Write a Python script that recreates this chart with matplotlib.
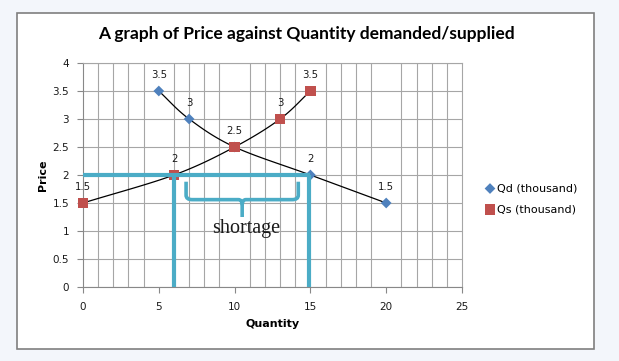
import numpy as np
import matplotlib
matplotlib.use("Agg")
import matplotlib.pyplot as plt
from matplotlib.patches import Rectangle
from matplotlib.path import Path
from matplotlib.patches import PathPatch

# Data
qd_quantity = [5, 7, 10, 15, 20]
qd_price = [3.5, 3, 2.5, 2, 1.5]
qd_labels = ["3.5", "3", "", "2", "1.5"]
qs_quantity = [0, 6, 10, 13, 15]
qs_price = [1.5, 2, 2.5, 3, 3.5]
qs_labels = ["1.5", "2", "2.5", "3", "3.5"]
x_ticks = [0, 5, 10, 15, 20, 25]
y_ticks = [0, 0.5, 1, 1.5, 2, 2.5, 3, 3.5, 4]
title = "A graph of Price against Quantity demanded/supplied"
annot_price = 2
annot_q_supplied = 6
annot_q_demanded = 15

W, H = 619, 361
fig = plt.figure(figsize=(W / 100, H / 100), dpi=100)
fig.patch.set_facecolor("#f3f6fb")

# chart frame
fig.patches.append(Rectangle((17 / W, 1 - 349 / H), (594 - 17) / W, (349 - 13) / H,
                             transform=fig.transFigure, facecolor="white",
                             edgecolor="#7f7f7f", linewidth=1.2, zorder=-5))

ax = fig.add_axes([83 / W, 1 - 287 / H, (462 - 83) / W, (287 - 63) / H])
ax.set_zorder(2)
ax.set_facecolor("white")
ax.set_xlim(0, 25)
ax.set_ylim(0, 4)
ax.set_xticks(x_ticks)
ax.set_yticks(y_ticks)
ax.set_yticklabels([("%g" % v) for v in y_ticks])
ax.set_xticks(np.arange(0, 26, 1), minor=True)
ax.tick_params(axis="both", which="major", labelsize=7.5, labelcolor="#1a1a1a",
               length=4, width=0.8, direction="out", color="#888888")
ax.tick_params(axis="y", which="major", pad=6)
ax.tick_params(axis="x", which="major", pad=7)
ax.tick_params(axis="x", which="minor", length=0)
ax.grid(True, which="major", axis="y", color="#a6a6a6", linewidth=0.8)
ax.grid(True, which="minor", axis="x", color="#a6a6a6", linewidth=0.8)
for s in ax.spines.values():
    s.set_color("#a6a6a6")
    s.set_linewidth(0.8)
ax.spines["left"].set_color("#888888")
ax.spines["bottom"].set_color("#888888")
ax.set_axisbelow(True)


def smooth(xs, ys, n=30):
    xs = np.asarray(xs, float)
    ys = np.asarray(ys, float)
    px = np.concatenate([[2 * xs[0] - xs[1]], xs, [2 * xs[-1] - xs[-2]]])
    py = np.concatenate([[2 * ys[0] - ys[1]], ys, [2 * ys[-1] - ys[-2]]])
    ox, oy = [], []
    for i in range(1, len(px) - 2):
        t = np.linspace(0, 1, n)
        for arr, out in ((px, ox), (py, oy)):
            p0, p1, p2, p3 = arr[i - 1], arr[i], arr[i + 1], arr[i + 2]
            out.extend(0.5 * ((2 * p1) + (-p0 + p2) * t + (2 * p0 - 5 * p1 + 4 * p2 - p3) * t ** 2
                              + (-p0 + 3 * p1 - 3 * p2 + p3) * t ** 3))
    return ox, oy


sx, sy = smooth(qd_quantity, qd_price)
ax.plot(sx, sy, color="black", linewidth=0.9, zorder=3)
sx, sy = smooth(qs_quantity, qs_price)
ax.plot(sx, sy, color="black", linewidth=0.9, zorder=3)

ax.scatter(qd_quantity, qd_price, marker="D", s=30, color="#4f81bd", zorder=4,
           label="Qd (thousand)", edgecolors="none")
ax.scatter(qs_quantity, qs_price, marker="s", s=55, color="#c0504d", zorder=5,
           label="Qs (thousand)", edgecolors="none", clip_on=False)

for x, y, t in zip(qd_quantity, qd_price, qd_labels):
    if t:
        ax.annotate(t, (x, y), xytext=(0, 8), textcoords="offset points",
                    ha="center", va="bottom", fontsize=7.3, color="#1a1a1a", zorder=6)
for x, y, t in zip(qs_quantity, qs_price, qs_labels):
    ax.annotate(t, (x, y), xytext=(0, 8), textcoords="offset points",
                ha="center", va="bottom", fontsize=7.3, color="#1a1a1a", zorder=6)

# teal annotation lines
teal = "#4bacc6"
ax.plot([0, annot_q_demanded], [annot_price, annot_price], color=teal, linewidth=3,
        solid_capstyle="butt", zorder=7, clip_on=False)
ax.plot([annot_q_supplied, annot_q_supplied], [0, annot_price], color=teal, linewidth=3,
        solid_capstyle="butt", zorder=7)
ax.plot([annot_q_demanded - 0.1, annot_q_demanded - 0.1], [0, annot_price], color=teal,
        linewidth=3, solid_capstyle="butt", zorder=7)

# curly brace (pointing down)
xl, xr, xm = 6.8, 14.2, 10.5
yt, yb, ytip = 1.88, 1.56, 1.25
r = 0.4
verts = [
    (xl, yt), (xl, yb + 0.08), (xl, yb), (xl + r, yb),
    (xm - 0.25, yb), (xm, yb), (xm, yb - 0.1), (xm, ytip),
]
codes = [Path.MOVETO, Path.LINETO, Path.CURVE3, Path.CURVE3,
         Path.LINETO, Path.CURVE3, Path.CURVE3, Path.LINETO]
ax.add_patch(PathPatch(Path(verts, codes), facecolor="none", edgecolor=teal,
                       linewidth=2.6, zorder=7))
verts2 = [
    (xr, yt), (xr, yb + 0.08), (xr, yb), (xr - r, yb),
    (xm + 0.25, yb), (xm, yb), (xm, yb - 0.1),
]
codes2 = [Path.MOVETO, Path.LINETO, Path.CURVE3, Path.CURVE3,
          Path.LINETO, Path.CURVE3, Path.CURVE3]
ax.add_patch(PathPatch(Path(verts2, codes2), facecolor="none", edgecolor=teal,
                       linewidth=2.6, zorder=7))

ax.text(10.75, 1.04, "shortage", family="Liberation Serif", fontsize=14.5,
        ha="center", va="center", color="#1a1a1a", zorder=8)

ax.set_xlabel("Quantity", fontsize=8, fontweight="bold", labelpad=5)
ax.set_ylabel("Price", fontsize=8, fontweight="bold", labelpad=3)

fig.text(306 / W, 1 - 34 / H, title, family="Lato", fontweight="bold", fontsize=12.5,
         ha="center", va="center", color="black")

leg = ax.legend(loc="center left", bbox_to_anchor=(480 / W, 1 - 199 / H),
                bbox_transform=fig.transFigure, frameon=False, fontsize=8,
                handletextpad=0.1, labelspacing=1.0, handlelength=1.0,
                borderaxespad=0)

fig.savefig("out.png", dpi=100, facecolor=fig.get_facecolor())
